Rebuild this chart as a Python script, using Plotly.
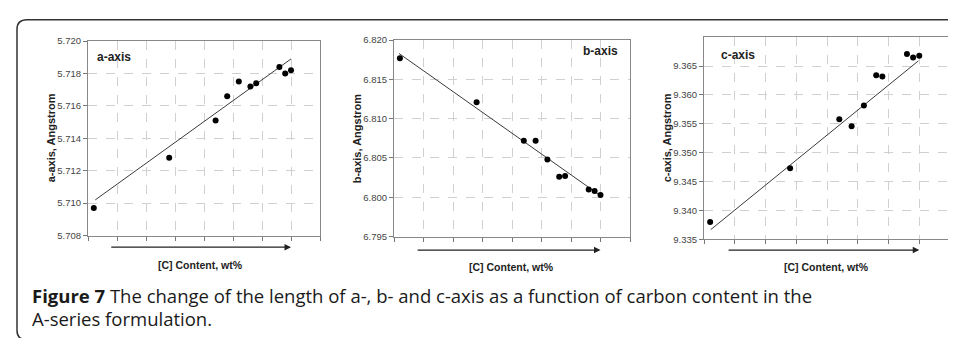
import plotly.graph_objects as go

# ---- data ----
carbon_x = [0.2, 2.8, 4.4, 4.8, 5.2, 5.6, 5.8, 6.6, 6.8, 7.0]
a_axis = [5.7097, 5.7128, 5.7151, 5.7166, 5.7175, 5.7172, 5.7174, 5.7184, 5.7180, 5.7182]
b_axis = [6.8177, 6.8121, 6.8072, 6.8072, 6.8048, 6.8026, 6.8027, 6.8010, 6.8008, 6.8003]
c_axis = [9.3380, 9.3473, 9.3558, 9.3546, 9.3582, 9.3634, 9.3632, 9.3671, 9.3665, 9.3668]

trend_a_x = [0.25, 7.0]
trend_a_y = [5.7102, 5.7189]
trend_b_x = [0.17, 7.0]
trend_b_y = [6.8183, 6.8002]
trend_c_x = [0.22, 6.97]
trend_c_y = [9.3367, 9.3659]

a_ticks = [5.708, 5.710, 5.712, 5.714, 5.716, 5.718, 5.720]
b_ticks = [6.795, 6.800, 6.805, 6.810, 6.815, 6.820]
c_ticks = [9.335, 9.340, 9.345, 9.350, 9.355, 9.360, 9.365]

panel_names = ["a-axis", "b-axis", "c-axis"]
y_titles = ["a-axis, Angstrom", "b-axis, Angstrom", "c-axis, Angstrom"]
x_title = "[C] Content, wt%"
caption_bold = "Figure 7"
caption_1 = " The change of the length of a-, b- and c-axis as a function of carbon content in the"
caption_2 = "A-series formulation."

W, H = 956, 338
def px(x): return x / W
def py(y): return 1 - y / H

FONT = "Liberation Sans, Arial, sans-serif"
CAPFONT = "'Open Sans', 'Noto Sans', sans-serif"

panels = [
    dict(dom_x=(80, 312), dom_y=(28, 229), y=a_axis, tx=trend_a_x, ty=trend_a_y,
         yr=[5.708, 5.720], ticks=a_ticks),
    dict(dom_x=(386, 622), dom_y=(27, 230), y=b_axis, tx=trend_b_x, ty=trend_b_y,
         yr=[6.795, 6.820], ticks=b_ticks),
    dict(dom_x=(696, 942), dom_y=(24, 233), y=c_axis, tx=trend_c_x, ty=trend_c_y,
         yr=[9.335, 9.370], ticks=c_ticks),
]

fig = go.Figure()
layout = {}
annotations = []
for i, p in enumerate(panels):
    k = "" if i == 0 else str(i + 1)
    xa, ya = "x" + k, "y" + k
    fig.add_trace(go.Scatter(x=p["tx"], y=p["ty"], mode="lines",
                             line=dict(color="#3a3a3a", width=1),
                             xaxis=xa, yaxis=ya, showlegend=False, hoverinfo="skip"))
    fig.add_trace(go.Scatter(x=carbon_x, y=p["y"], mode="markers",
                             marker=dict(color="black", size=6),
                             xaxis=xa, yaxis=ya, showlegend=False))
    layout["xaxis" + k] = dict(
        domain=[px(p["dom_x"][0]), px(p["dom_x"][1])], anchor=ya,
        range=[0, 8], dtick=1, tick0=0, showticklabels=False,
        ticks="outside", ticklen=4, tickcolor="#777",
        showgrid=True, gridcolor="#d0d0d0", griddash="dash", gridwidth=1,
        showline=True, linecolor="#888", linewidth=1, mirror=True,
        zeroline=False, fixedrange=True)
    layout["yaxis" + k] = dict(
        domain=[py(p["dom_y"][1]), py(p["dom_y"][0])], anchor=xa,
        range=p["yr"], tickvals=p["ticks"], tickformat=".3f",
        ticks="outside", ticklen=4, tickcolor="#777",
        tickfont=dict(family=FONT, size=9.5, color="#444"),
        showgrid=True, gridcolor="#d0d0d0", griddash="dash", gridwidth=1,
        showline=True, linecolor="#888", linewidth=1, mirror=True,
        zeroline=False, fixedrange=True)
    annotations.append(dict(text="<b>%s</b>" % y_titles[i], textangle=-90,
                            xref="paper", yref="paper",
                            x=px(p["dom_x"][0] - 37), y=py((p["dom_y"][0] + p["dom_y"][1]) / 2),
                            xanchor="center", yanchor="middle", showarrow=False,
                            font=dict(family=FONT, size=11, color="#222")))
    annotations.append(dict(text="<b>%s</b>" % x_title, xref="paper", yref="paper",
                            x=px(p["dom_x"][0] + 112 + (i * 5)), y=py(259 + (2 if i else 0)),
                            xanchor="center", yanchor="middle", showarrow=False,
                            font=dict(family=FONT, size=10.5, color="#222")))
    annotations.append(dict(text="", xref=xa, yref="paper", x=7,
                            y=py(241 if i == 0 else 244),
                            axref=xa, ayref="pixel", ax=0.75, ay=0,
                            showarrow=True, arrowhead=2, arrowsize=1, arrowwidth=1.3,
                            arrowcolor="#222"))

annotations.append(dict(text="<b>a-axis</b>", xref="paper", yref="paper",
                        x=px(87), y=py(44), xanchor="left", yanchor="middle",
                        showarrow=False, font=dict(family=FONT, size=12, color="#222")))
annotations.append(dict(text="<b>b-axis</b>", xref="paper", yref="paper",
                        x=px(612), y=py(38), xanchor="right", yanchor="middle",
                        showarrow=False, font=dict(family=FONT, size=12, color="#222")))
annotations.append(dict(text="<b>c-axis</b>", xref="paper", yref="paper",
                        x=px(711), y=py(42), xanchor="left", yanchor="middle",
                        showarrow=False, font=dict(family=FONT, size=12, color="#222")))

annotations.append(dict(text="<b>%s</b>%s" % (caption_bold, caption_1), xref="paper", yref="paper",
                        x=px(22), y=py(291), xanchor="left", yanchor="middle",
                        showarrow=False, font=dict(family=CAPFONT, size=18.5, color="#1a1a1a")))
annotations.append(dict(text=caption_2, xref="paper", yref="paper",
                        x=px(22), y=py(315), xanchor="left", yanchor="middle",
                        showarrow=False, font=dict(family=CAPFONT, size=18.5, color="#1a1a1a")))

frame = ("M %f,%f L %f,%f Q %f,%f %f,%f L %f,%f Q %f,%f %f,%f L %f,%f" % (
    px(970), py(6), px(19), py(6), px(9), py(6), px(9), py(16),
    px(9), py(327), px(9), py(337), px(19), py(337), px(970), py(337)))

fig.update_layout(
    width=W, height=H, margin=dict(l=0, r=0, t=0, b=0),
    paper_bgcolor="white", plot_bgcolor="white",
    font=dict(family=FONT),
    annotations=annotations,
    shapes=[dict(type="path", path=frame, xref="paper", yref="paper",
                 line=dict(color="#333", width=1.5))],
    **layout)

fig.write_html("out.html")
